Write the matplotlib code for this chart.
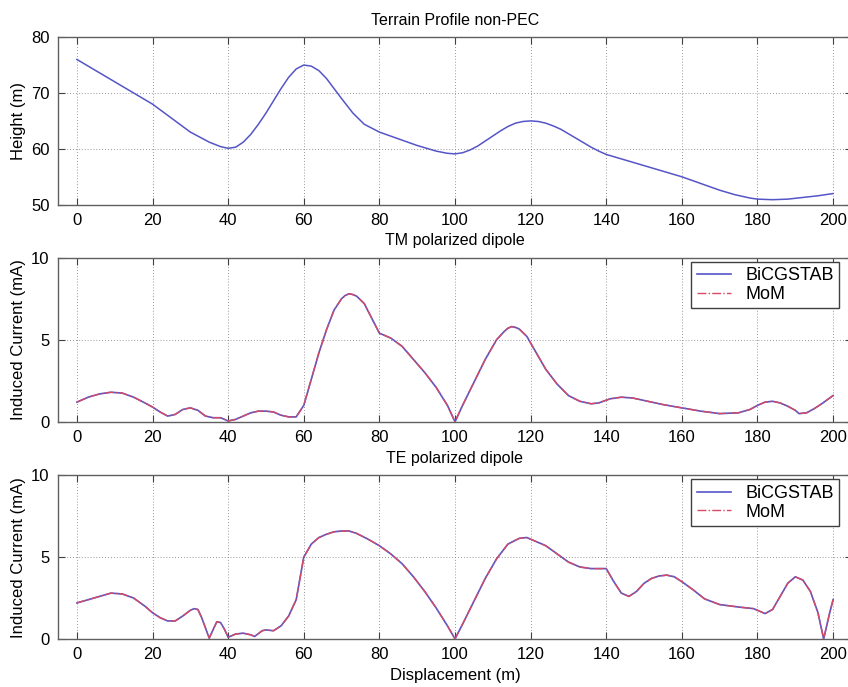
import matplotlib
matplotlib.use("Agg")
import matplotlib.pyplot as plt

plt.rcParams['font.family'] = ['Liberation Sans', 'DejaVu Sans']

# terrain profile (m)
terrain_x = [0, 10, 20, 25, 30, 35, 38, 40, 42, 44, 46, 48, 50, 52, 54, 56, 58, 60, 62, 64, 66, 68, 70, 73, 76, 80, 85, 90, 95, 98, 100,
             102, 104, 106, 108, 110, 112, 114, 116, 118, 120, 122, 124, 126, 128, 130, 132, 134, 136, 138, 140,
             145, 150, 155, 160, 165, 170, 174, 178, 180, 184, 188, 192, 196, 200]
terrain_h = [76, 72, 68, 65.5, 63, 61.2, 60.4, 60.1, 60.3, 61.2, 62.6, 64.4, 66.4, 68.6, 70.8, 72.8, 74.3, 75, 74.8, 74, 72.6, 70.8, 69, 66.4, 64.4, 63, 61.8, 60.6, 59.6, 59.2, 59.1,
             59.3, 59.8, 60.5, 61.4, 62.3, 63.2, 64, 64.6, 64.9, 65, 64.9, 64.6, 64.1, 63.5, 62.7, 61.9, 61.1, 60.3, 59.6, 59,
             58, 57, 56, 55, 53.8, 52.6, 51.8, 51.2, 51, 50.9, 51, 51.3, 51.6, 52]

# TM polarized dipole induced current (mA)
tm_x = [0, 3, 6, 9, 12, 15, 18, 20, 22, 24, 26, 28, 30, 32, 34, 36, 38, 40, 42, 44, 46, 48, 50, 52, 54, 56, 58,
        60, 62, 64, 66, 68, 70, 71, 72, 73, 74, 76, 78, 80, 83, 86, 89, 92, 95, 98, 100,
        102, 105, 108, 111, 113, 114, 115, 116, 117, 119, 121, 124, 127, 130, 133, 136, 138, 141, 144, 147,
        150, 155, 160, 165, 170, 175, 178, 180, 182, 184, 186, 188, 190, 191, 193, 195, 197, 200]
tm_i = [1.2, 1.5, 1.7, 1.8, 1.75, 1.5, 1.15, 0.9, 0.6, 0.35, 0.45, 0.75, 0.85, 0.7, 0.35, 0.25, 0.25, 0.05, 0.15, 0.35, 0.55, 0.65, 0.65, 0.6, 0.4, 0.3, 0.3,
        1.0, 2.6, 4.2, 5.6, 6.8, 7.5, 7.7, 7.8, 7.75, 7.65, 7.2, 6.3, 5.4, 5.1, 4.6, 3.8, 3.0, 2.1, 1.0, 0.0,
        1.0, 2.4, 3.8, 5.0, 5.5, 5.7, 5.8, 5.75, 5.65, 5.2, 4.4, 3.2, 2.3, 1.6, 1.25, 1.1, 1.15, 1.4, 1.5, 1.45,
        1.3, 1.05, 0.85, 0.65, 0.5, 0.55, 0.75, 1.0, 1.2, 1.25, 1.15, 0.95, 0.7, 0.5, 0.55, 0.8, 1.1, 1.6]

# TE polarized dipole induced current (mA)
te_x = [0, 3, 6, 9, 12, 15, 18, 20, 22, 24, 26, 28, 30, 31, 32, 33, 35, 37, 38, 39, 40, 42, 44, 46, 47, 49, 50, 52,
        54, 56, 58, 60, 62, 64, 66, 68, 70, 72, 74, 77, 80, 83, 86, 89, 92, 95, 98, 100,
        102, 105, 108, 111, 114, 117, 119, 121, 124, 127, 130, 133, 136, 140, 142, 144, 146, 148, 150,
        152, 154, 156, 158, 160, 163, 166, 170, 175, 179, 181, 182, 184, 186, 188, 190, 192, 194, 196, 197.5, 199, 200]
te_i = [2.2, 2.4, 2.6, 2.8, 2.75, 2.5, 2.0, 1.6, 1.3, 1.1, 1.1, 1.4, 1.75, 1.85, 1.8, 1.3, 0.05, 1.05, 1.0, 0.6, 0.1, 0.3, 0.35, 0.25, 0.15, 0.5, 0.55, 0.5,
        0.8, 1.4, 2.4, 5.0, 5.8, 6.2, 6.4, 6.55, 6.6, 6.6, 6.45, 6.1, 5.7, 5.2, 4.6, 3.8, 2.9, 1.9, 0.8, 0.0,
        0.9, 2.3, 3.7, 4.9, 5.8, 6.15, 6.2, 6.0, 5.7, 5.2, 4.7, 4.4, 4.3, 4.3, 3.5, 2.8, 2.6, 2.9, 3.4,
        3.7, 3.85, 3.9, 3.8, 3.5, 3.0, 2.45, 2.1, 1.95, 1.85, 1.65, 1.55, 1.8, 2.6, 3.4, 3.8, 3.6, 2.9, 1.6, 0.0, 1.5, 2.4]

xticks = [0, 20, 40, 60, 80, 100, 120, 140, 160, 180, 200]

blue = '#5555c8'
red = '#d84a64'
axcol = '#606060'

fig = plt.figure(figsize=(8.48, 6.87), dpi=100)
left = 58 / 848
width = (852 - 58) / 848
ax1 = fig.add_axes([left, 0.702, width, 0.244])
ax2 = fig.add_axes([left, 0.386, width, 0.239])
ax3 = fig.add_axes([left, 0.070, width, 0.238])


def style(ax, ylim, yticks):
    ax.set_xlim(-5, 205)
    ax.set_ylim(*ylim)
    ax.set_xticks(xticks)
    ax.set_yticks(yticks)
    ax.grid(True, linestyle=(0, (1, 2.5)), color='#777777', linewidth=0.6)
    ax.tick_params(direction='in', top=True, right=True, labelsize=12,
                   length=5, color='#404040', pad=6)
    for s in ax.spines.values():
        s.set_color(axcol)
        s.set_linewidth(1.0)


ax1.plot(terrain_x, terrain_h, color=blue, linewidth=1.1)
style(ax1, (50, 80), [50, 60, 70, 80])
ax1.set_ylabel('Height (m)', fontsize=12)
ax1.set_title('Terrain Profile non-PEC', fontsize=11.5, pad=9)

ax2.plot(tm_x, tm_i, color=blue, linewidth=1.2, label='BiCGSTAB')
ax2.plot(tm_x, tm_i, color=red, linewidth=1.0, linestyle='-.', label='MoM')
style(ax2, (0, 10), [0, 5, 10])
ax2.set_ylabel('Induced Current (mA)', fontsize=12)
ax2.set_title('TM polarized dipole', fontsize=11.5, pad=9)

ax3.plot(te_x, te_i, color=blue, linewidth=1.2, label='BiCGSTAB')
ax3.plot(te_x, te_i, color=red, linewidth=1.0, linestyle='-.', label='MoM')
style(ax3, (0, 10), [0, 5, 10])
ax3.set_ylabel('Induced Current (mA)', fontsize=12)
ax3.set_title('TE polarized dipole', fontsize=11.5, pad=9)
ax3.set_xlabel('Displacement (m)', fontsize=12)

for ax in (ax2, ax3):
    leg = ax.legend(loc='upper right', bbox_to_anchor=(0.984, 0.975), fontsize=13,
                    fancybox=False, framealpha=1, edgecolor='#404040',
                    handlelength=1.9, borderpad=0.3, labelspacing=0.1,
                    handletextpad=0.8, borderaxespad=0)
    leg.get_frame().set_linewidth(1.0)

plt.savefig('out.png', dpi=100)
